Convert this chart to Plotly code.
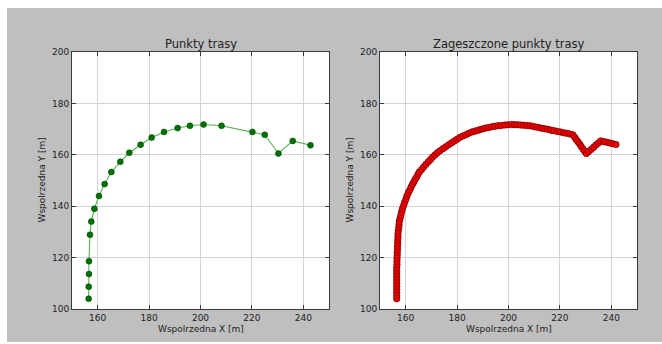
import plotly.graph_objects as go

# Route points [m]
route_x = [156.5, 156.5, 156.6, 156.6, 157.0, 157.5, 158.7, 160.5, 162.7, 165.3,
           168.8, 172.3, 176.7, 181.0, 185.8, 191.1, 195.9, 201.2, 208.2, 220.2,
           225.0, 230.3, 235.9, 242.8]
route_y = [104.0, 108.7, 113.6, 118.6, 128.9, 134.0, 139.0, 144.0, 148.6, 153.3,
           157.3, 160.8, 163.9, 166.7, 168.9, 170.4, 171.3, 171.8, 171.3, 168.9,
           167.8, 160.5, 165.4, 163.7]

# Densified route points [m]
dense_x = [156.5, 156.5, 156.5, 156.5, 156.5, 156.5, 156.5, 156.5, 156.5, 156.5,
           156.5, 156.6, 156.6, 156.6, 156.7, 156.7, 156.8, 156.8, 156.9, 156.9,
           157.0, 157.0, 157.1, 157.3, 157.4, 157.5, 157.8, 158.1, 158.4, 158.7,
           159.2, 159.6, 160.1, 160.5, 161.0, 161.6, 162.1, 162.7, 163.2, 163.7,
           164.3, 164.8, 165.3, 166.2, 167.0, 167.9, 168.8, 169.7, 170.5, 171.4,
           172.3, 173.4, 174.5, 175.6, 176.7, 177.8, 178.8, 179.9, 181.0, 182.2,
           183.4, 184.6, 185.8, 186.9, 187.9, 189.0, 190.0, 191.1, 192.3, 193.5,
           194.7, 195.9, 197.2, 198.6, 199.9, 201.2, 202.4, 203.5, 204.7, 205.9,
           207.0, 208.2, 209.4, 210.6, 211.8, 213.0, 214.2, 215.4, 216.6, 217.8,
           219.0, 220.2, 221.4, 222.6, 223.8, 225.0, 225.7, 226.3, 227.0, 227.7,
           228.3, 229.0, 229.6, 230.3, 231.2, 232.2, 233.1, 234.0, 235.0, 235.9,
           237.1, 238.2, 239.4, 240.6, 241.8]
dense_y = [104.0, 105.2, 106.4, 107.6, 108.8, 110.0, 111.2, 112.4, 113.6, 114.8,
           116.0, 117.2, 118.4, 119.6, 120.8, 122.0, 123.2, 124.4, 125.6, 126.8,
           128.0, 129.2, 130.4, 131.6, 132.8, 134.0, 135.2, 136.4, 137.7, 139.0,
           140.3, 141.5, 142.8, 144.0, 145.2, 146.3, 147.5, 148.6, 149.5, 150.5,
           151.4, 152.4, 153.3, 154.3, 155.3, 156.3, 157.3, 158.2, 159.1, 159.9,
           160.8, 161.6, 162.4, 163.1, 163.9, 164.6, 165.3, 166.0, 166.7, 167.3,
           167.8, 168.4, 168.9, 169.2, 169.5, 169.8, 170.1, 170.4, 170.6, 170.9,
           171.1, 171.3, 171.4, 171.6, 171.7, 171.8, 171.7, 171.7, 171.6, 171.5,
           171.4, 171.3, 171.1, 170.8, 170.6, 170.3, 170.1, 169.9, 169.6, 169.4,
           169.1, 168.9, 168.6, 168.4, 168.1, 167.8, 166.9, 166.0, 165.1, 164.2,
           163.2, 162.3, 161.4, 160.5, 161.3, 162.1, 162.9, 163.8, 164.6, 165.4,
           165.1, 164.9, 164.6, 164.3, 164.0]

x_ticks = [160, 180, 200, 220, 240]
y_ticks = [100, 120, 140, 160, 180, 200]
titles = ["Punkty trasy", "Zageszczone punkty trasy"]
x_label = "Wspolrzedna X [m]"
y_label = "Wspolrzedna Y [m]"

W, H = 662, 344
ML, MR, MT, MB = 72, 25, 52, 35
PW = W - ML - MR
PH = H - MT - MB


def px(x):
    return (x - ML) / PW


def py(y):
    return (H - MB - y) / PH


FONT = "DejaVu Sans"
TXT = "#222222"

fig = go.Figure()
fig.add_trace(go.Scatter(
    x=route_x, y=route_y, mode="lines+markers", xaxis="x", yaxis="y",
    line=dict(color="#55b255", width=1.1),
    marker=dict(color="#007000", size=6, line=dict(color="#004000", width=0.5)),
    showlegend=False))
fig.add_trace(go.Scatter(
    x=dense_x, y=dense_y, mode="markers", xaxis="x2", yaxis="y2",
    marker=dict(color="#ee0000", size=6.5, line=dict(color="#5a0000", width=0.6)),
    showlegend=False))

dom_left = [0, 257 / PW]
dom_right = [(380 - ML) / PW, 1]

axis_common = dict(
    showgrid=True, gridcolor="#d4d4d4", gridwidth=1,
    showline=True, linecolor="#3a3a3a", linewidth=1, mirror="allticks",
    ticks="inside", ticklen=4, tickcolor="#3a3a3a", tickwidth=1,
    zeroline=False, tickfont=dict(family=FONT, size=9, color=TXT),
)

fig.update_layout(
    width=W, height=H,
    margin=dict(l=ML, r=MR, t=MT, b=MB),
    paper_bgcolor="#bfbfbf", plot_bgcolor="white",
    xaxis=dict(domain=dom_left, range=[150, 250], tickvals=x_ticks, anchor="y", **axis_common),
    yaxis=dict(domain=[0, 1], range=[100, 200], tickvals=y_ticks, anchor="x", **axis_common),
    xaxis2=dict(domain=dom_right, range=[150, 250], tickvals=x_ticks, anchor="y2", **axis_common),
    yaxis2=dict(domain=[0, 1], range=[100, 200], tickvals=y_ticks, anchor="x2", **axis_common),
)

# white page edge around the grey figure canvas
shapes = [
    dict(type="rect", xref="paper", yref="paper", x0=px(0), x1=px(W), y0=py(8), y1=py(0),
         fillcolor="white", line=dict(width=0), layer="below"),
    dict(type="rect", xref="paper", yref="paper", x0=px(0), x1=px(7), y0=py(H), y1=py(0),
         fillcolor="white", line=dict(width=0), layer="below"),
    dict(type="rect", xref="paper", yref="paper", x0=px(0), x1=px(W), y0=py(H), y1=py(342),
         fillcolor="white", line=dict(width=0), layer="below"),
]
fig.update_layout(shapes=shapes)

annotations = []
for dom, title, ylab_x in [(dom_left, titles[0], 41), (dom_right, titles[1], 349)]:
    cx = (dom[0] + dom[1]) / 2
    annotations.append(dict(text=title, x=cx, y=py(44), xref="paper", yref="paper",
                            showarrow=False, xanchor="center", yanchor="middle",
                            font=dict(family=FONT, size=11.5, color=TXT)))
    annotations.append(dict(text=x_label, x=cx, y=py(328.5), xref="paper", yref="paper",
                            showarrow=False, xanchor="center", yanchor="middle",
                            font=dict(family=FONT, size=9, color=TXT)))
    annotations.append(dict(text=y_label, x=px(ylab_x), y=0.5, xref="paper", yref="paper",
                            showarrow=False, xanchor="center", yanchor="middle", textangle=-90,
                            font=dict(family=FONT, size=9, color=TXT)))
fig.update_layout(annotations=annotations)

fig.write_html("out.html")
